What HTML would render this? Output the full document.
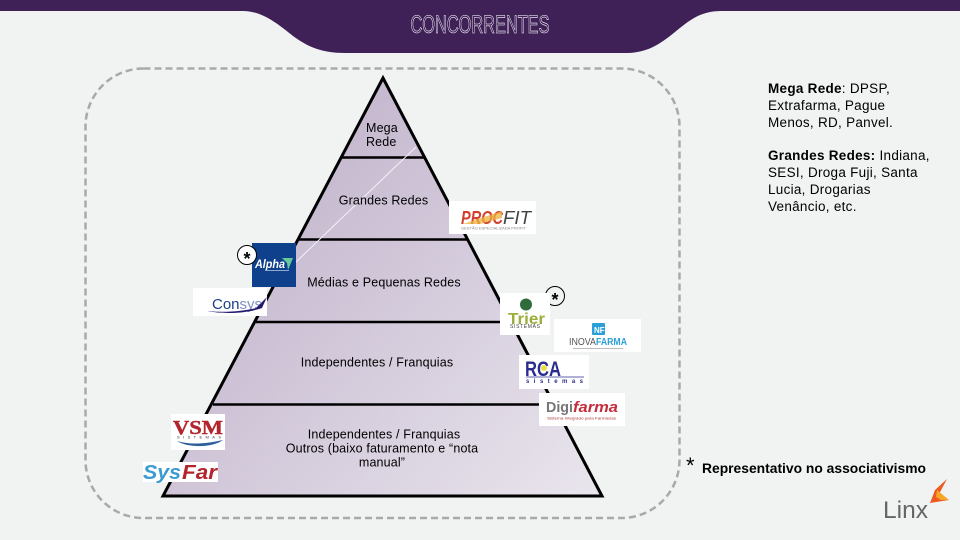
<!DOCTYPE html>
<html lang="pt"><head><meta charset="utf-8"><title>Concorrentes</title>
<style>html,body{margin:0;padding:0;background:#f1f3f3}svg{display:block}
text{font-family:"Liberation Sans",sans-serif;font-size:12.5px;fill:#000}</style></head>
<body>
<svg width="960" height="540" viewBox="0 0 960 540" xmlns="http://www.w3.org/2000/svg">
<defs><linearGradient id="g" gradientUnits="userSpaceOnUse" x1="190" y1="130" x2="590" y2="500">
<stop offset="0" stop-color="#bdaec8"/><stop offset="1" stop-color="#e9e5ed"/></linearGradient></defs>
<rect width="960" height="540" fill="#f1f3f3"/>
<!-- Header -->
<path d="M0 0H960V11H722C700 11 690 20 675 32C660 44 648 53 625 53H345C322 53 308 47 293 36C278 24 262 11 243 11H0Z" fill="#3f2158"/>
<text x="480" y="33" text-anchor="middle" textLength="139" lengthAdjust="spacingAndGlyphs" style="font-size:25px;fill:#3f2158;stroke:#fff;stroke-width:.6">CONCORRENTES</text>
<!-- Dashed frame -->
<rect x="85.500" y="68.500" width="594" height="449.500" rx="58" fill="none" stroke="#a9a9a9" stroke-width="2.500" stroke-dasharray="7 4"/>
<!-- Pyramid -->
<path d="M383 78L602 496H163Z" fill="url(#g)"/>
<path d="M383 78L602 496H163Z" fill="none" stroke="#000" stroke-width="3" stroke-linejoin="miter"/>
<g stroke="#000" stroke-width="2.500">
<path d="M341 157.500H424"/><path d="M299 239.500H467"/><path d="M256 322H510"/><path d="M213 404.500H553"/>
</g>
<path d="M416 147L296 262" stroke="#f4f2f6" stroke-width="1"/>
<!-- Pyramid labels -->
<g style="letter-spacing:.15px">
<text x="366" y="132">Mega</text><text x="366" y="146">Rede</text>
<text x="383.500" y="204.500" text-anchor="middle">Grandes Redes</text>
<text x="384" y="286.500" text-anchor="middle">Médias e Pequenas Redes</text>
<text x="377" y="366.500" text-anchor="middle">Independentes / Franquias</text>
<text x="384" y="438.500" text-anchor="middle">Independentes / Franquias</text>
<text x="382" y="452.500" text-anchor="middle">Outros (baixo faturamento e “nota</text>
<text x="382" y="466.500" text-anchor="middle">manual”</text>
</g>
<!-- Right text -->
<g style="letter-spacing:.28px">
<text x="768" y="93" style="font-size:13.500px"><tspan font-weight="bold">Mega Rede</tspan>: DPSP,</text>
<text x="768" y="110" style="font-size:13.500px">Extrafarma, Pague</text>
<text x="768" y="127" style="font-size:13.500px">Menos, RD, Panvel.</text>
<text x="768" y="160" style="font-size:13.500px"><tspan font-weight="bold">Grandes Redes:</tspan> Indiana,</text>
<text x="768" y="177" style="font-size:13.500px">SESI, Droga Fuji, Santa</text>
<text x="768" y="194" style="font-size:13.500px">Lucia, Drogarias</text>
<text x="768" y="211" style="font-size:13.500px">Venâncio, etc.</text>
</g>
<text x="686" y="473" style="font-size:22px">*</text>
<text x="702" y="473" font-weight="bold" textLength="224" lengthAdjust="spacingAndGlyphs" style="font-size:13.500px">Representativo no associativismo</text>
<!-- Alpha -->
<rect x="252" y="243" width="44" height="44" fill="#0f408c"/>
<text x="255" y="268" font-weight="bold" font-style="italic" style="font-size:12px;fill:#fff" textLength="30" lengthAdjust="spacingAndGlyphs">Alpha</text>
<path d="M282 258H293L288 270L287 263Z" fill="#67c8a0"/>
<rect x="265" y="270" width="24" height="1" fill="#8fa8cf"/>
<!-- Consys -->
<rect x="193" y="288" width="74" height="28" fill="#fff"/>
<text x="212" y="309" style="font-size:15px;fill:#1d3f85">Con<tspan fill="#7f8fc0">sys</tspan></text>
<path d="M207 311C225 313 245 311 256 308L267 297L262 308C245 314 222 314 207 311Z" fill="#241a70"/>
<!-- Stars -->
<circle cx="247" cy="255" r="9.500" fill="#fff" stroke="#000" stroke-width="1"/>
<text x="247" y="265" text-anchor="middle" font-weight="bold" style="font-size:18px;fill:#000">*</text>
<circle cx="555" cy="296" r="9.500" fill="#f1f3f3" stroke="#000" stroke-width="1"/>
<text x="555" y="306" text-anchor="middle" font-weight="bold" style="font-size:18px;fill:#000">*</text>
<!-- Procfit -->
<rect x="449" y="201" width="87" height="33" fill="#fff"/>
<text x="461" y="224" font-weight="bold" font-style="italic" style="font-size:18px;fill:#d2402f" textLength="42" lengthAdjust="spacingAndGlyphs">PROC</text>
<text x="503" y="224" font-style="italic" style="font-size:18px;fill:#444" textLength="28" lengthAdjust="spacingAndGlyphs">FIT</text>
<path d="M463 224L502 211V218L480 224Z" fill="#eeb23b" opacity=".75"/>
<text x="461" y="229.500" style="font-size:4px;fill:#888" textLength="65" lengthAdjust="spacingAndGlyphs">GESTÃO ESPECIALIZADA PROFIT</text>
<!-- Trier -->
<rect x="500" y="293" width="50" height="42" fill="#fff"/>
<circle cx="526" cy="304.500" r="6" fill="#2f6b3b"/>
<text x="508" y="324" font-weight="bold" style="font-size:16px;fill:#9cae3a" textLength="37" lengthAdjust="spacingAndGlyphs">Trier</text>
<text x="510" y="328" style="font-size:5px;fill:#444" textLength="30" lengthAdjust="spacing">SISTEMAS</text>
<!-- Inovafarma -->
<rect x="554" y="319" width="87" height="33" fill="#fff"/>
<rect x="592" y="323" width="13" height="12" rx="1" fill="#2b9fd8"/>
<text x="594" y="333" font-weight="bold" style="font-size:8px;fill:#fff">NF</text>
<text x="569" y="345" style="font-size:10px;fill:#555" textLength="27" lengthAdjust="spacingAndGlyphs">INOVA</text>
<text x="596" y="345" font-weight="bold" style="font-size:10px;fill:#2b9fd8" textLength="31" lengthAdjust="spacingAndGlyphs">FARMA</text>
<rect x="573" y="348" width="50" height="1" fill="#bbb"/>
<!-- RCA -->
<rect x="519" y="355" width="70" height="34" fill="#fff"/>
<text x="525" y="376" font-weight="bold" style="font-size:21px;fill:#2a2d8f" textLength="36" lengthAdjust="spacingAndGlyphs">RCA</text>
<circle cx="544" cy="368" r="3" fill="#e8e04a"/>
<path d="M526 377H584" stroke="#2a2d8f" stroke-width=".8"/>
<text x="526" y="383" font-weight="bold" style="font-size:6px;fill:#2a2d8f" textLength="57" lengthAdjust="spacing">sistemas</text>
<!-- Digifarma -->
<rect x="539" y="393" width="86" height="33" fill="#fff"/>
<text x="546" y="412" font-weight="bold" style="font-size:15px;fill:#777" textLength="27" lengthAdjust="spacingAndGlyphs">Digi</text>
<text x="573" y="412" font-weight="bold" font-style="italic" style="font-size:15px;fill:#c32d3c" textLength="45" lengthAdjust="spacingAndGlyphs">farma</text>
<text x="547" y="419.500" style="font-size:4px;fill:#a33" textLength="69" lengthAdjust="spacingAndGlyphs">Sistema Integrado para Farmácias</text>
<!-- VSM -->
<rect x="171" y="414" width="54" height="36" fill="#fff"/>
<text x="173" y="434" font-weight="bold" style="font-family:'Liberation Serif',serif;font-size:20px;fill:#b3252e;stroke:#b3252e;stroke-width:.4" textLength="50" lengthAdjust="spacingAndGlyphs">VSM</text>
<text x="177" y="438.500" style="font-size:4px;fill:#333" textLength="44" lengthAdjust="spacing">SISTEMAS</text>
<path d="M177 441C190 445 205 444 223 440C212 448 188 448 177 441Z" fill="#2f5f9a"/>
<!-- SysFar -->
<rect x="143" y="462" width="75" height="20" fill="#fff"/>
<text x="143" y="479" font-weight="bold" font-style="italic" style="font-size:20px;fill:#3b9ad2" textLength="38" lengthAdjust="spacingAndGlyphs">Sys</text>
<text x="182" y="479" font-weight="bold" font-style="italic" style="font-size:20px;fill:#b3252e" textLength="35" lengthAdjust="spacingAndGlyphs">Far</text>
<!-- Linx -->
<text x="883" y="518" style="font-size:24px;fill:#666" textLength="45" lengthAdjust="spacingAndGlyphs">Linx</text>
<path d="M947 479L938 496L949 500L930 503L935 490Z" fill="#ee5a24"/>
<path d="M937 490L949 500H941L936 497Z" fill="#f5a623"/>
</svg>
</body></html>
